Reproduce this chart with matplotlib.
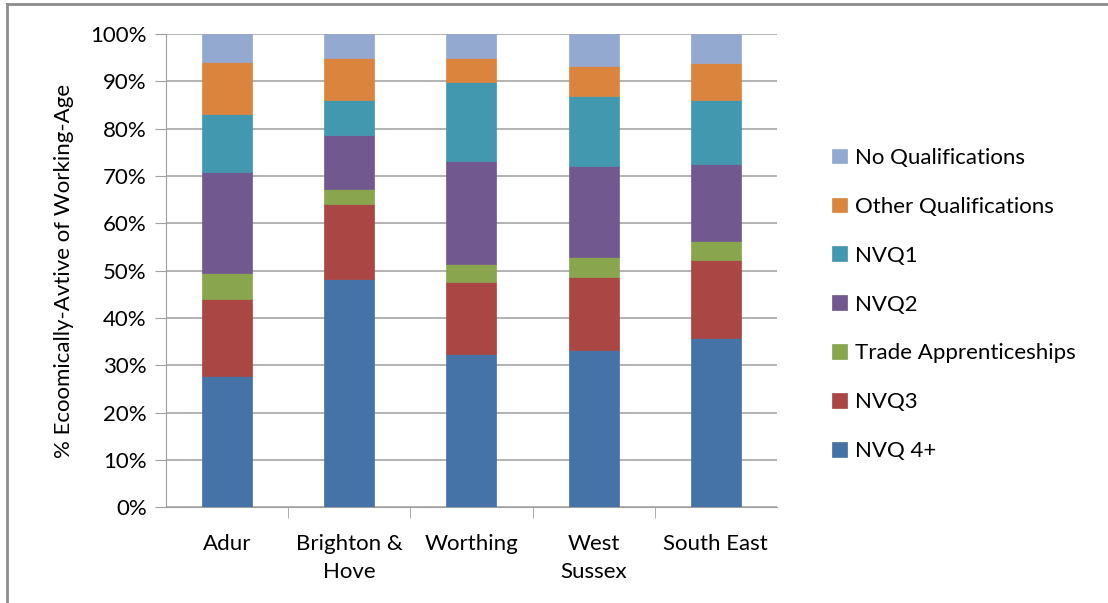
import matplotlib.pyplot as plt
import matplotlib
from matplotlib.lines import Line2D
from matplotlib.ticker import PercentFormatter
matplotlib.rc("font", family="Lato")

areas = ["Adur", "Brighton &\nHove", "Worthing", "West\nSussex", "South East"]

# % of economically active working-age, bottom of stack first
nvq4 = [27.7, 48.3, 32.3, 33.3, 35.8]
nvq3 = [16.3, 15.7, 15.2, 15.3, 16.4]
trade = [5.4, 3.2, 3.8, 4.3, 4.0]
nvq2 = [21.4, 11.4, 21.9, 19.2, 16.3]
nvq1 = [12.2, 7.4, 16.6, 14.7, 13.5]
other = [11.1, 8.9, 5.1, 6.5, 7.9]
no_qual = [5.9, 5.1, 5.1, 6.7, 6.1]

series = [nvq4, nvq3, trade, nvq2, nvq1, other, no_qual]
names = ["NVQ 4+", "NVQ3", "Trade Apprenticeships", "NVQ2", "NVQ1",
         "Other Qualifications", "No Qualifications"]
colors = ["#4572A7", "#AA4643", "#89A54E", "#71588F", "#4198AF", "#DB843D", "#93A9CF"]

fig = plt.figure(figsize=(11.08, 6.03), dpi=100)
ax = fig.add_axes([0.150, 0.159, 0.551, 0.7846])

x = range(len(areas))
bottom = [0] * len(areas)
bars = []
for vals, name, c in zip(series, names, colors):
    b = ax.bar(x, vals, bottom=bottom, width=0.41, color=c, label=name,
               edgecolor=c, linewidth=0.5, zorder=3)
    bars.append(b)
    bottom = [bo + v for bo, v in zip(bottom, vals)]

ax.set_xlim(-0.5, len(areas) - 0.5)
ax.set_ylim(0, 100)
ax.set_yticks(range(0, 101, 10))
ax.yaxis.set_major_formatter(PercentFormatter(decimals=0))
ax.set_xticks(list(x))
ax.set_xticklabels(areas, fontsize=16, linespacing=1.55)
ax.set_xticks([i + 0.5 for i in range(len(areas) - 1)], minor=True)
ax.tick_params(axis="x", which="major", length=0, pad=19)
ax.tick_params(axis="x", which="minor", length=8, color="#A0A0A0", direction="out")
ax.tick_params(axis="y", labelsize=16, length=8, color="#A0A0A0", direction="out", pad=6)

ax.grid(axis="y", color="#A6A6A6", linewidth=1.2, zorder=0)
for s in ["top", "right"]:
    ax.spines[s].set_visible(False)
ax.spines["left"].set_color("#A0A0A0")
ax.spines["bottom"].set_color("#A0A0A0")
ax.set_ylabel("% Ecoomically-Avtive of Working-Age", fontsize=16, labelpad=12)

handles = bars[::-1]
ax.legend(handles, names[::-1], loc="center left", bbox_to_anchor=(0.733, 0.495),
          bbox_transform=fig.transFigure, frameon=False, fontsize=16,
          handlelength=0.65, handleheight=0.65, handletextpad=0.4, labelspacing=1.3)

# chart-area border (only top and left edges visible in the crop)
fig.add_artist(Line2D([0.0065, 0.0065], [0.0, 0.994], transform=fig.transFigure,
                      color="#8C8C8C", linewidth=2))
fig.add_artist(Line2D([0.0065, 1.0], [0.994, 0.994], transform=fig.transFigure,
                      color="#8C8C8C", linewidth=2))

fig.savefig("out.png", dpi=100)
